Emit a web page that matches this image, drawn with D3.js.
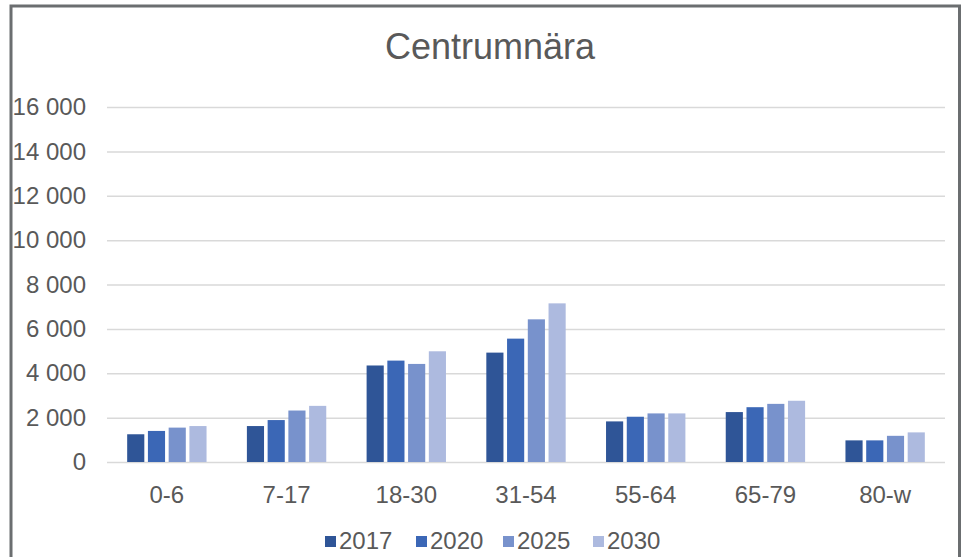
<!DOCTYPE html>
<html>
<head>
<meta charset="utf-8">
<script src="https://cdn.jsdelivr.net/npm/d3@7"></script>
<style>
  html, body { margin: 0; padding: 0; background: #ffffff; }
  svg { display: block; font-family: "Liberation Sans", Arial, sans-serif; }
</style>
</head>
<body>
<svg id="chart" width="961" height="557"></svg>
<script>
// Population by age group, Centrumnära
const categories = ["0-6", "7-17", "18-30", "31-54", "55-64", "65-79", "80-w"];
const years = ["2017", "2020", "2025", "2030"];
const values2017 = [1250, 1620, 4350, 4930, 1830, 2250, 975];
const values2020 = [1400, 1890, 4570, 5560, 2040, 2470, 975];
const values2025 = [1550, 2320, 4420, 6430, 2190, 2620, 1180];
const values2030 = [1620, 2530, 4990, 7150, 2190, 2760, 1335];
const yTicks = [0, 2000, 4000, 6000, 8000, 10000, 12000, 14000, 16000];
const colors = ["#2f5597", "#3b67b6", "#7892cc", "#adbadf"];

const series = [values2017, values2020, values2025, values2030];
const rows = categories.map((c, i) => ({ cat: c, vals: series.map((s, j) => ({ year: years[j], v: s[i], j })) }));

const svg = d3.select("#chart");

// frame
svg.append("rect").attr("x", 0).attr("y", 0).attr("width", 961).attr("height", 557).attr("fill", "#fff");
svg.append("path")
  .attr("d", "M11,557 V6 H959.5 V557")
  .attr("fill", "none").attr("stroke", "#6b6e70").attr("stroke-width", 3);

const plot = { left: 107, right: 945, top: 107, bottom: 462 };

const x0 = d3.scaleBand().domain(categories).range([plot.left, plot.right])
  .paddingInner(0.307).paddingOuter(0.1535);
const x1 = d3.scaleBand().domain(years).range([0, x0.bandwidth()]);
const y = d3.scaleLinear().domain([0, 16000]).range([plot.bottom, plot.top]);

const fmt = v => d3.format(",")(v).replace(/,/g, " ");

// gridlines and y labels
const yAxis = d3.axisLeft(y).tickValues(yTicks).tickSize(-(plot.right - plot.left)).tickFormat(fmt).tickPadding(21);
const gy = svg.append("g").attr("transform", `translate(${plot.left},0)`).call(yAxis);
gy.select(".domain").remove();
gy.selectAll(".tick line").attr("stroke", "#d9d9d9").attr("stroke-width", 1.5);
gy.selectAll(".tick text").attr("fill", "#595959").style("font-size", "24px")
  .style("font-family", "'Liberation Sans', Arial, sans-serif");

// bars
const inset = 1.8;
const groups = svg.append("g").selectAll("g").data(rows).join("g")
  .attr("transform", d => `translate(${x0(d.cat)},0)`);
groups.selectAll("rect").data(d => d.vals).join("rect")
  .attr("x", d => x1(d.year) + inset)
  .attr("width", x1.bandwidth() - 2 * inset)
  .attr("y", d => y(d.v))
  .attr("height", d => y(0) - y(d.v))
  .attr("fill", d => colors[d.j]);

// x axis labels
const xAxis = d3.axisBottom(x0).tickSize(0).tickPadding(24);
const gx = svg.append("g").attr("transform", `translate(0,${plot.bottom})`).call(xAxis);
gx.select(".domain").remove();
gx.selectAll(".tick text").attr("fill", "#595959").style("font-size", "24px")
  .style("font-family", "'Liberation Sans', Arial, sans-serif");

// title
svg.append("text").attr("x", 490).attr("y", 59).attr("text-anchor", "middle")
  .attr("fill", "#595959").style("font-size", "36px").text("Centrumnära");

// legend
const legendX = d3.scaleOrdinal().domain(years).range([325, 416, 503, 593]);
const lg = svg.append("g").selectAll("g").data(years).join("g")
  .attr("transform", d => `translate(${legendX(d)},536)`);
lg.append("rect").attr("width", 11).attr("height", 11).attr("fill", (d, i) => colors[i]);
lg.append("text").attr("x", 14).attr("y", 13).attr("fill", "#595959")
  .style("font-size", "24px").text(d => d);
</script>
</body>
</html>
